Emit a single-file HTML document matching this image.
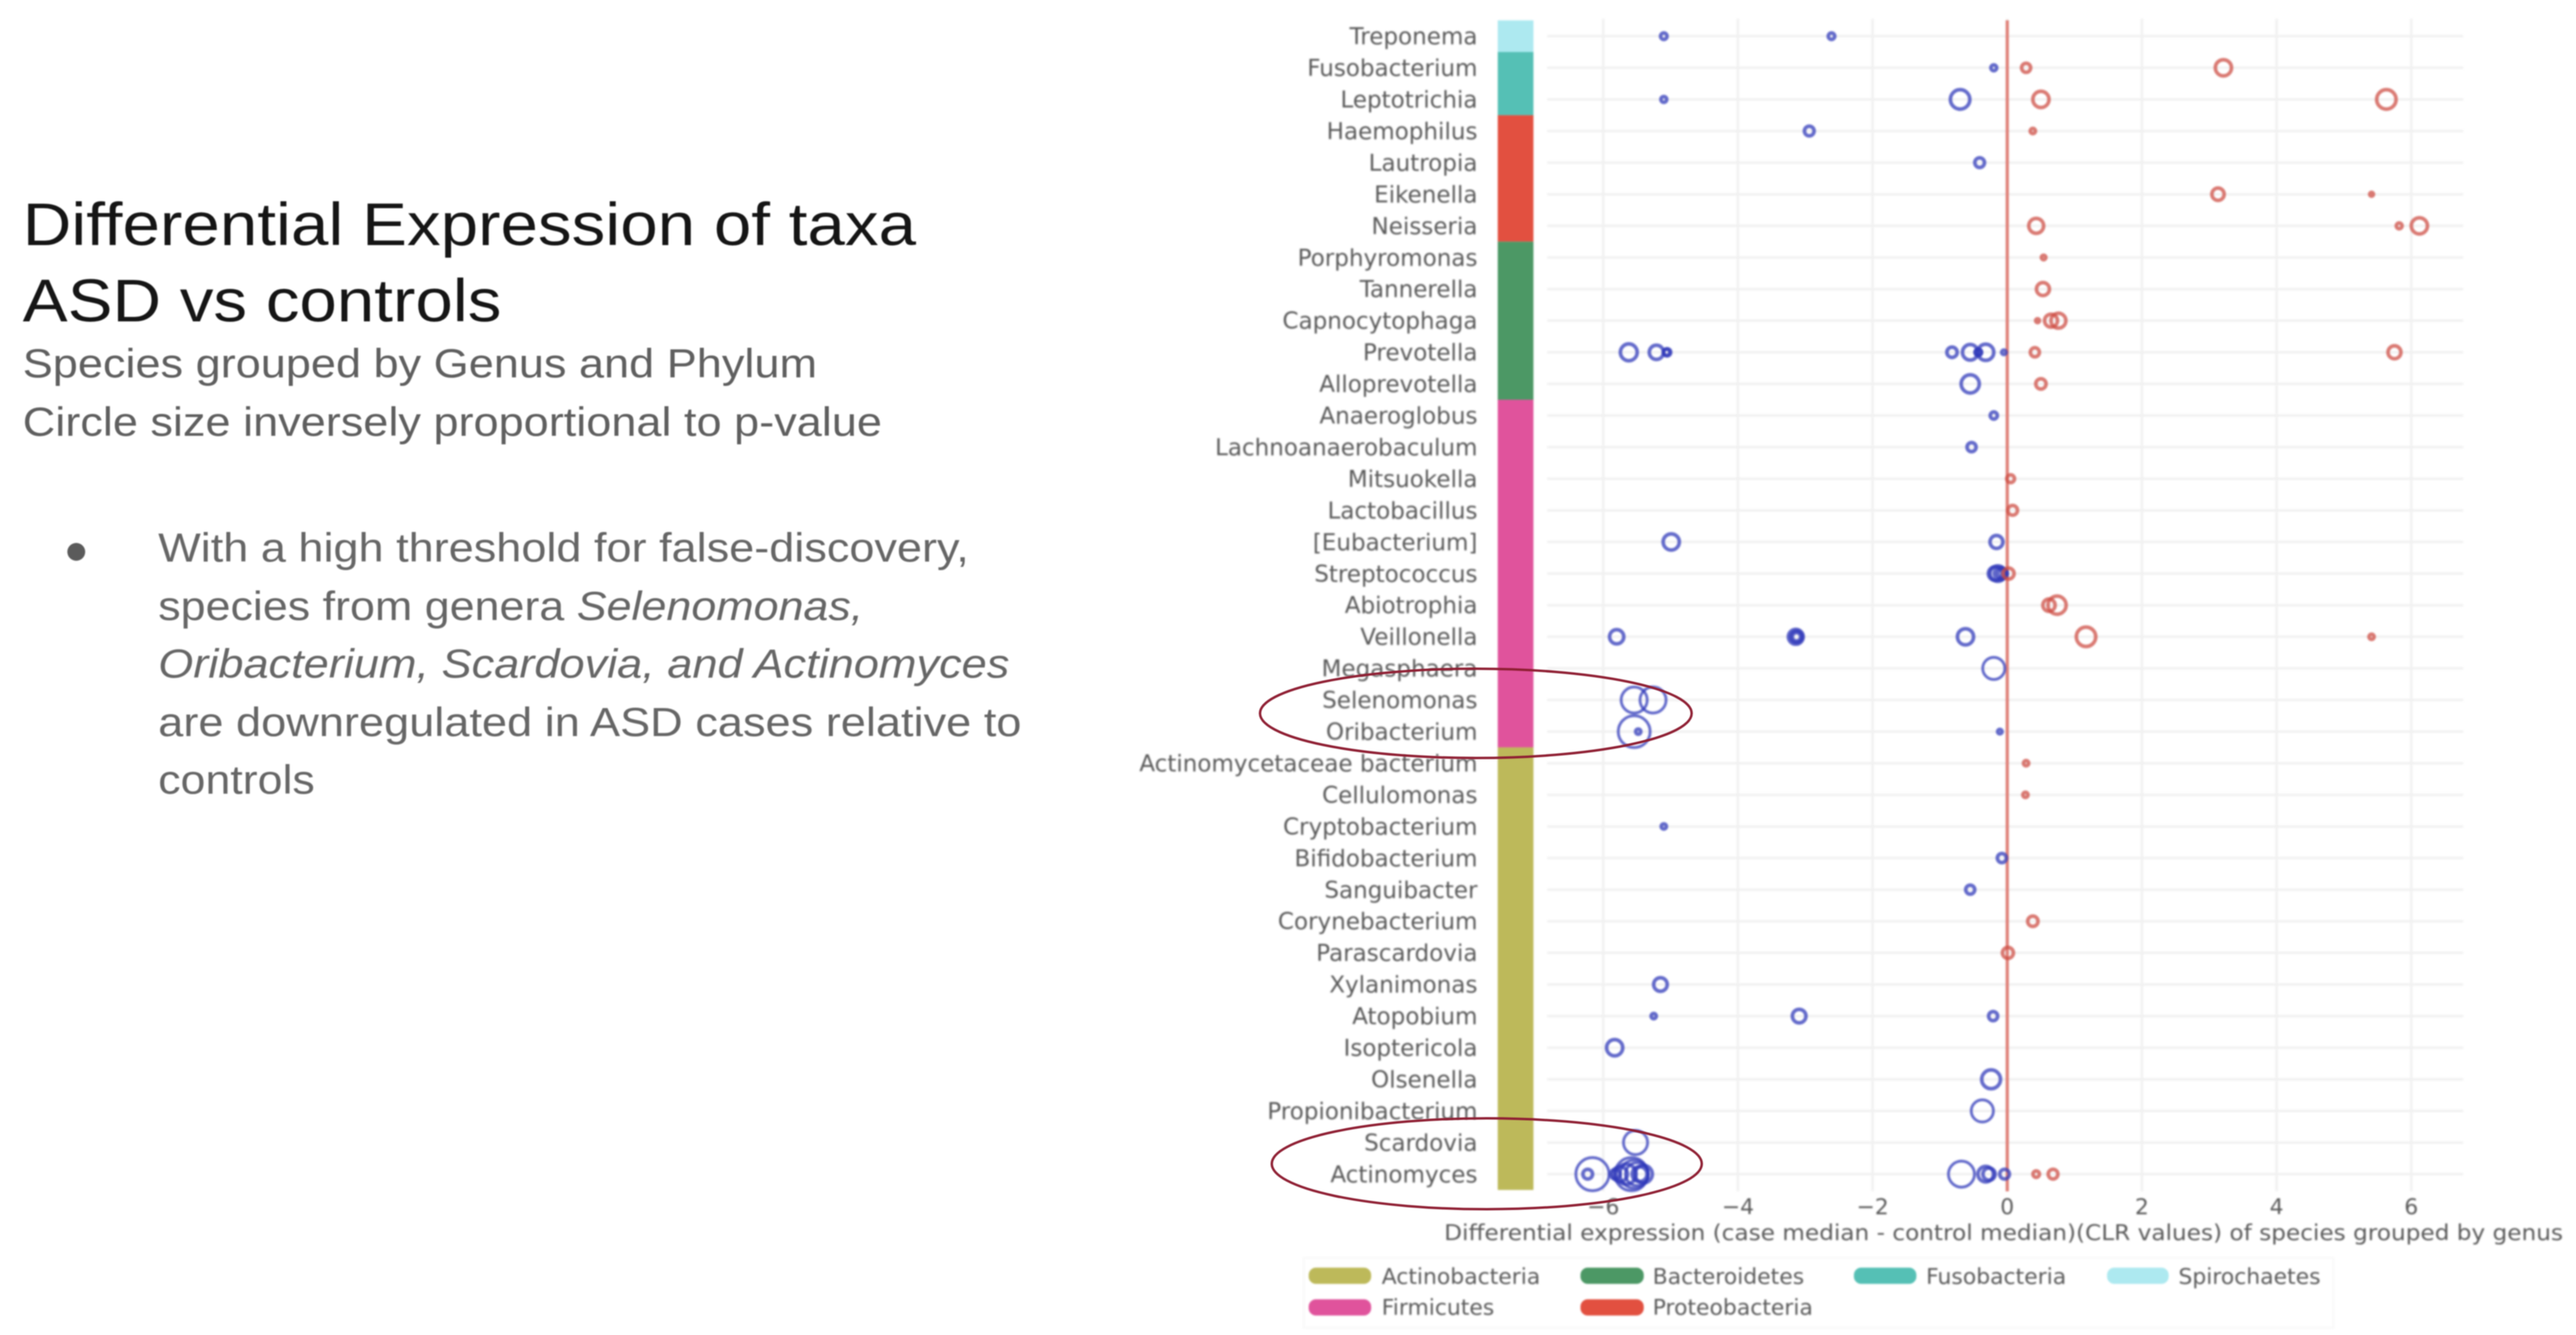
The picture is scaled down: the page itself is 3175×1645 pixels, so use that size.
<!DOCTYPE html>
<html lang="en">
<head>
<meta charset="utf-8">
<title>Differential Expression of taxa</title>
<style>
html,body{margin:0;padding:0;background:#fff;}
body{width:3175px;height:1645px;overflow:hidden;}
svg{display:block;}
.sans{font-family:"Liberation Sans",Arial,sans-serif;}
.dv{font-family:"DejaVu Sans",sans-serif;fill:#5a5a5a;}
</style>
</head>
<body>
<svg id="slide" xmlns="http://www.w3.org/2000/svg" width="3175" height="1645" viewBox="0 0 3175 1645">
  <g class="sans" style="filter:blur(0.7px)">
    <text x="28" y="302" font-size="74" fill="#151515" textLength="1101" lengthAdjust="spacingAndGlyphs">Differential Expression of taxa</text>
    <text x="28" y="396" font-size="74" fill="#151515" textLength="590" lengthAdjust="spacingAndGlyphs">ASD vs controls</text>
    <text x="28" y="465" font-size="50" fill="#5f5f5f" textLength="979" lengthAdjust="spacingAndGlyphs">Species grouped by Genus and Phylum</text>
    <text x="28" y="537" font-size="50" fill="#5f5f5f" textLength="1059" lengthAdjust="spacingAndGlyphs">Circle size inversely proportional to p-value</text>
    <circle cx="94" cy="680" r="11" fill="#5b5b5b"/>
    <text x="195" y="692" font-size="50" fill="#666" textLength="999" lengthAdjust="spacingAndGlyphs">With a high threshold for false-discovery,</text>
    <text x="195" y="764" font-size="50" fill="#666" textLength="869" lengthAdjust="spacingAndGlyphs">species from genera <tspan font-style="italic">Selenomonas,</tspan></text>
    <text x="195" y="835" font-size="50" fill="#666" font-style="italic" textLength="1049" lengthAdjust="spacingAndGlyphs">Oribacterium, Scardovia, and Actinomyces</text>
    <text x="195" y="907" font-size="50" fill="#666" textLength="1064" lengthAdjust="spacingAndGlyphs">are downregulated in ASD cases relative to</text>
    <text x="195" y="978" font-size="50" fill="#666" textLength="193" lengthAdjust="spacingAndGlyphs">controls</text>
  </g>

  <g id="chart" style="filter:blur(1.1px)">
    <g id="grid"></g>
    <g id="phylum-strip"></g>
    <g id="y-labels"></g>
    <g id="x-labels"></g>
    <line id="zero-line" stroke="#e0827a" stroke-width="4"></line>
    <g id="points"></g>
    <text class="dv" x="1780" y="1528" font-size="27" textLength="1379" lengthAdjust="spacingAndGlyphs">Differential expression (case median - control median)(CLR values) of species grouped by genus</text>

    <g>
      <rect x="1607" y="1550" width="1269" height="86" fill="none" stroke="#f8f8f8" stroke-width="2"/>
      <g>
        <rect x="1613" y="1562" width="77" height="20" rx="9" fill="#bdb95a"/>
        <text class="dv" x="1703" y="1582" font-size="27">Actinobacteria</text>
      </g>
      <g>
        <rect x="1948" y="1562" width="78" height="20" rx="9" fill="#4c9865"/>
        <text class="dv" x="2037" y="1582" font-size="27">Bacteroidetes</text>
      </g>
      <g>
        <rect x="2285" y="1562" width="77" height="20" rx="9" fill="#55c0b5"/>
        <text class="dv" x="2374" y="1582" font-size="27">Fusobacteria</text>
      </g>
      <g>
        <rect x="2597" y="1562" width="76" height="20" rx="9" fill="#ade9f0"/>
        <text class="dv" x="2685" y="1582" font-size="27">Spirochaetes</text>
      </g>
      <g>
        <rect x="1613" y="1601" width="77" height="20" rx="9" fill="#e0539c"/>
        <text class="dv" x="1703" y="1620" font-size="27">Firmicutes</text>
      </g>
      <g>
        <rect x="1948" y="1601" width="78" height="20" rx="9" fill="#e25040"/>
        <text class="dv" x="2037" y="1620" font-size="27">Proteobacteria</text>
      </g>
    </g>
  </g>

  <ellipse cx="1819" cy="879" rx="266" ry="55" fill="none" stroke="#8f1f33" stroke-width="3" style="filter:blur(0.6px)"/>
  <ellipse cx="1832.5" cy="1434" rx="265" ry="56" fill="none" stroke="#8f1f33" stroke-width="3" style="filter:blur(0.6px)"/>
</svg>

<script>
var categories = ["Treponema","Fusobacterium","Leptotrichia","Haemophilus","Lautropia","Eikenella","Neisseria","Porphyromonas","Tannerella","Capnocytophaga","Prevotella","Alloprevotella","Anaeroglobus","Lachnoanaerobaculum","Mitsuokella","Lactobacillus","[Eubacterium]","Streptococcus","Abiotrophia","Veillonella","Megasphaera","Selenomonas","Oribacterium","Actinomycetaceae bacterium","Cellulomonas","Cryptobacterium","Bifidobacterium","Sanguibacter","Corynebacterium","Parascardovia","Xylanimonas","Atopobium","Isoptericola","Olsenella","Propionibacterium","Scardovia","Actinomyces"];
var phylumNames = ["Spirochaetes","Fusobacteria","Proteobacteria","Bacteroidetes","Firmicutes","Actinobacteria"];
var phylumGenusCounts = [1,2,4,5,11,14];
var phylumColors = ["#ade9f0","#55c0b5","#e25040","#4c9865","#e0539c","#bdb95a"];
var xTicks = [-6,-4,-2,0,2,4,6];
var xTickLabels = ["\u22126","\u22124","\u22122","0","2","4","6"];
var speciesValues = [
  [-5.10,-2.61],
  [-0.20,0.28,3.21],
  [-5.10,-0.70,0.50,5.63],
  [-2.94,0.38],
  [-0.41],
  [3.13,5.41],
  [0.43,5.82,6.12],
  [0.54],
  [0.53],
  [0.45,0.65,0.76],
  [-5.62,-5.21,-5.05,-5.06,-0.82,-0.55,-0.43,-0.43,-0.32,-0.05,0.41,5.75],
  [-0.55,0.50],
  [-0.20],
  [-0.53],
  [0.05],
  [0.08],
  [-4.99,-0.16],
  [-0.18,-0.14,-0.10,-0.07,0.02],
  [0.62,0.74],
  [-5.80,-3.14,-3.13,-3.13,-0.62,1.17,5.41],
  [-0.20],
  [-5.54,-5.26],
  [-5.54,-5.48,-0.11],
  [0.28],
  [0.27],
  [-5.10],
  [-0.08],
  [-0.55],
  [0.38],
  [0.01],
  [-5.15],
  [-5.25,-3.09,-0.21],
  [-5.83],
  [-0.24],
  [-0.37],
  [-5.52],
  [-6.23,-6.16,-5.82,-5.75,-5.66,-5.58,-5.54,-5.50,-5.46,-5.40,-0.68,-0.32,-0.27,-0.04,0.43,0.68]
];
var speciesSignificance = [
  [1.3,1.3],
  [1.2,1.7,2.8],
  [1.2,3.3,2.8,3.3],
  [1.8,1.1],
  [1.8],
  [2.2,0.9],
  [2.6,1.2,2.8],
  [1.0],
  [2.3],
  [0.9,2.3,2.6],
  [2.9,2.5,1.4,1.3,1.9,2.7,1.3,1.3,2.8,1.0,1.7,2.3],
  [3.1,1.9],
  [1.4],
  [1.7],
  [1.5],
  [1.8],
  [2.8,2.3],
  [2.4,2.7,2.2,1.8,2.0],
  [2.2,3.1],
  [2.5,2.6,1.6,2.1,2.8,3.3,1.1],
  [3.6],
  [4.2,4.2],
  [5.1,1.1,1.0],
  [1.1],
  [1.1],
  [1.1],
  [1.7],
  [1.7],
  [1.9],
  [2.0],
  [2.4],
  [1.1,2.4,1.7],
  [2.8],
  [3.2],
  [3.6],
  [3.9],
  [1.8,5.3,1.8,2.6,3.4,5.3,4.5,3.7,2.6,3.0,4.2,2.7,2.2,1.8,1.3,1.8]
];

var SVGNS = "http://www.w3.org/2000/svg";
var plotLeft = 1907, plotRight = 3036, plotTop = 23, plotBottom = 1468;
function xScale(v){ return 2474 + v * 83; }
function yScale(i){ return 44.6 + i * 38.95; }
function sizeScale(s){ return s * 4 + 1; }
function make(tag, attrs, parent){
  var el = document.createElementNS(SVGNS, tag);
  for (var k in attrs) el.setAttribute(k, attrs[k]);
  parent.appendChild(el);
  return el;
}

var gridG = document.getElementById("grid");
categories.forEach(function(name, i){
  var el = make("line", {x1:plotLeft, x2:plotRight, y1:yScale(i), y2:yScale(i), stroke:"#f1f1f1", "stroke-width":3}, gridG);
  
  
});
xTicks.forEach(function(t){
  var el = make("line", {x1:xScale(t), x2:xScale(t), y1:plotTop, y2:plotBottom, stroke:"#f1f1f1", "stroke-width":3}, gridG);
  
  
});

var stripG = document.getElementById("phylum-strip");
var startRow = 0;
phylumNames.forEach(function(name, p){
  var y0 = yScale(startRow) - 19.5;
  var y1 = yScale(startRow + phylumGenusCounts[p]) - 19.5;
  var el = make("rect", {x:1846, y:y0, width:44, height:y1 - y0, fill:phylumColors[p]}, stripG);
  
  
  startRow += phylumGenusCounts[p];
});

var yG = document.getElementById("y-labels");
categories.forEach(function(name, i){
  var el = make("text", {x:1821, y:yScale(i) + 10, "text-anchor":"end", "font-size":28.4, "class":"dv"}, yG);
  el.textContent = name;
  
  
});

var xG = document.getElementById("x-labels");
xTicks.forEach(function(t, i){
  var el = make("text", {x:xScale(t), y:1496, "text-anchor":"middle", "font-size":27, "class":"dv"}, xG);
  el.textContent = xTickLabels[i];
  
  
});

var zero = document.getElementById("zero-line");
zero.setAttribute("x1", xScale(0));
zero.setAttribute("x2", xScale(0));
zero.setAttribute("y1", plotTop + 2);
zero.setAttribute("y2", plotBottom);

var ptsG = document.getElementById("points");
speciesValues.forEach(function(vals, row){
  vals.forEach(function(v, j){
    var r = sizeScale(speciesSignificance[row][j]);
    var sw = r > 15 ? 3.5 : 4.5;
    var color = v < 0 ? "rgba(48,58,185,0.75)" : "rgba(205,78,68,0.75)";
    var el = make("circle", {cx:xScale(v), cy:yScale(row), r:Math.max(r - sw / 2, 1), fill:"none", stroke:color, "stroke-width":sw}, ptsG);
    
    
  });
});
</script>
</body>
</html>
